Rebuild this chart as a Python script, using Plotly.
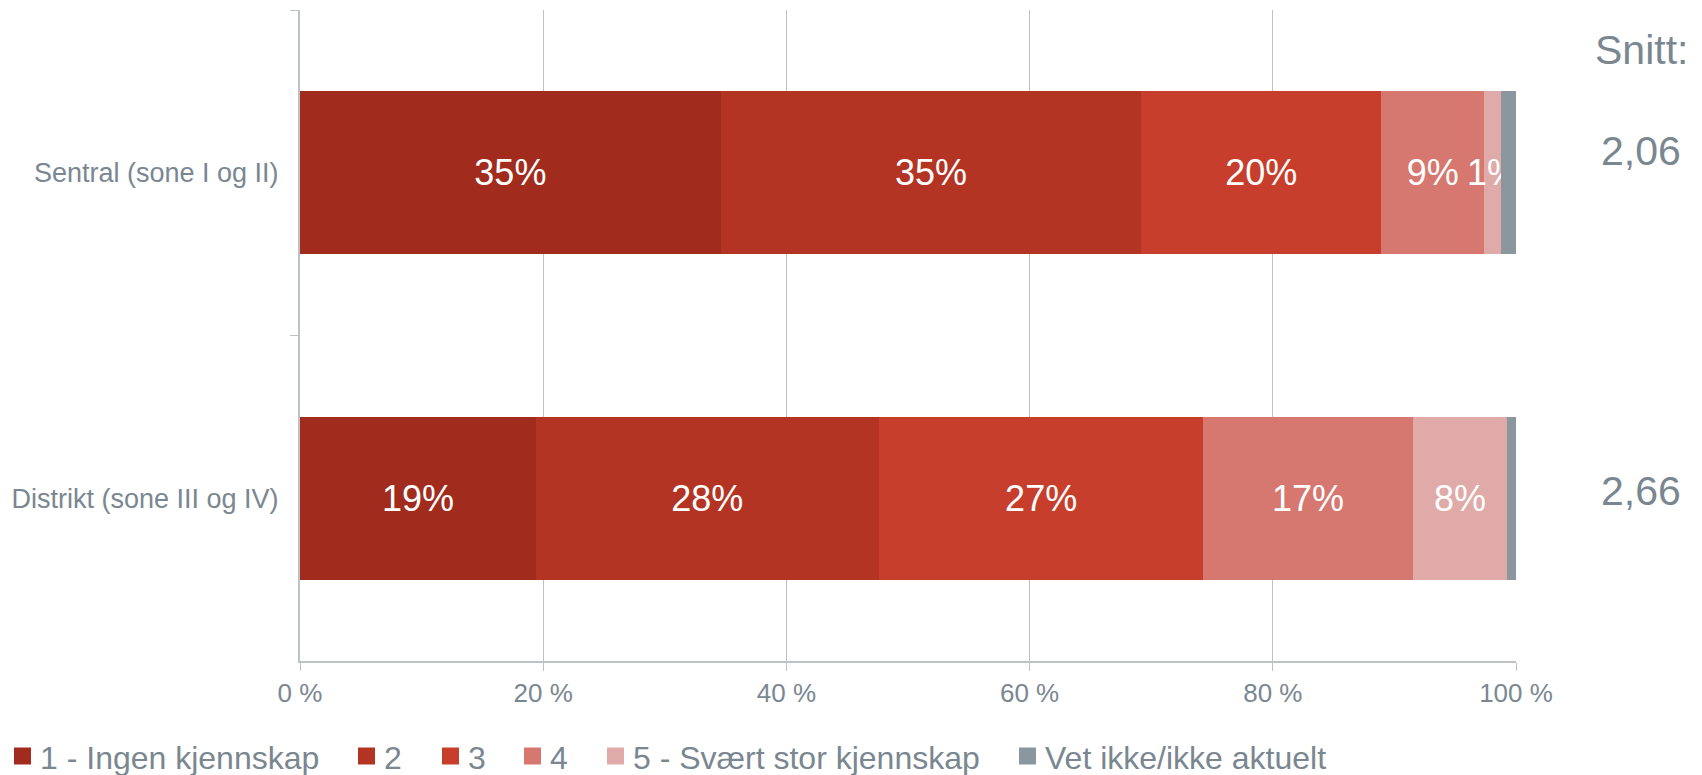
import plotly.graph_objects as go

# ── data ──────────────────────────────────────────────────────────────────────
groups = ["Sentral (sone I og II)", "Distrikt (sone III og IV)"]
series_names = ["1 - Ingen kjennskap", "2", "3", "4",
                "5 - Svært stor kjennskap", "Vet ikke/ikke aktuelt"]
# share of respondents (%) per group, one list per answer category
values = [
    [34.6, 19.4],
    [34.6, 28.2],
    [19.7, 26.7],
    [8.5, 17.2],
    [1.4, 7.8],
    [1.2, 0.7],
]
labels = [
    ["35%", "19%"],
    ["35%", "28%"],
    ["20%", "27%"],
    ["9%", "17%"],
    ["1%", "8%"],
    ["", ""],
]
snitt = ["2,06", "2,66"]
x_ticks = [0, 20, 40, 60, 80, 100]
x_ticktext = ["0 %", "20 %", "40 %", "60 %", "80 %", "100 %"]

colors = ["#A12C1E", "#B43424", "#C83E2C", "#D67870", "#E0AAA8", "#8A979F"]
GRAY_TEXT = "#7A8791"
GRID = "#BDC2C6"
FONT = "Liberation Sans, Arial, sans-serif"

# ── layout geometry (pixels) ──────────────────────────────────────────────────
W, H = 1702, 775
M_L, M_R, M_T, M_B = 300, 186, 10, 114
PLOT_W = W - M_L - M_R
PLOT_H = H - M_T - M_B
LEGEND_X = [14, 358, 442, 524, 607, 1019]   # left edge of each swatch
LEGEND_Y = 756                              # swatch centre line
SWATCH = 17


def px_x(px):
    return (px - M_L) / PLOT_W


def px_y(py):
    return (H - M_B - py) / PLOT_H


fig = go.Figure()
for name, vals, txt, col in zip(series_names, values, labels, colors):
    fig.add_trace(go.Bar(
        y=groups,
        x=vals,
        name=name,
        orientation="h",
        marker=dict(color=col, line=dict(width=0)),
        text=txt,
        textposition="inside",
        insidetextanchor="middle",
        textangle=0,
        constraintext="none",
        textfont=dict(size=36, color="white", family=FONT),
        hoverinfo="skip",
        showlegend=False,
    ))

# legend drawn by hand so it can sit flush with the page edge
for name, col, lx in zip(series_names, colors, LEGEND_X):
    fig.add_shape(type="rect", xref="paper", yref="paper",
                  x0=px_x(lx), x1=px_x(lx + SWATCH),
                  y0=px_y(LEGEND_Y + SWATCH / 2), y1=px_y(LEGEND_Y - SWATCH / 2),
                  fillcolor=col, line=dict(width=0))
    fig.add_annotation(text=name, xref="paper", yref="paper",
                       x=px_x(lx + SWATCH + 7), y=px_y(LEGEND_Y + 2),
                       xanchor="left", yanchor="middle", showarrow=False,
                       font=dict(size=32, color=GRAY_TEXT, family=FONT))

# averages column on the right
fig.add_annotation(text="Snitt:", xref="paper", yref="paper", x=px_x(1641), y=px_y(50),
                   xanchor="center", yanchor="middle", showarrow=False,
                   font=dict(size=41, color=GRAY_TEXT, family=FONT))
for s, py in zip(snitt, [151, 491]):
    fig.add_annotation(text=s, xref="paper", yref="paper", x=px_x(1641), y=px_y(py),
                       xanchor="center", yanchor="middle", showarrow=False,
                       font=dict(size=41, color=GRAY_TEXT, family=FONT))

fig.update_layout(
    barmode="stack",
    bargap=0.5,
    width=W,
    height=H,
    margin=dict(l=M_L, r=M_R, t=M_T, b=M_B),
    plot_bgcolor="white",
    paper_bgcolor="white",
    font=dict(family=FONT, color=GRAY_TEXT),
    uniformtext=dict(minsize=36, mode="show"),
    showlegend=False,
    xaxis=dict(
        range=[0, 100],
        tickvals=x_ticks,
        ticktext=x_ticktext,
        showgrid=True,
        gridcolor=GRID,
        gridwidth=1,
        showline=True,
        linecolor=GRID,
        linewidth=2,
        ticks="outside",
        ticklen=8,
        tickcolor=GRID,
        tickfont=dict(size=26, color=GRAY_TEXT),
        zeroline=False,
        automargin=False,
        fixedrange=True,
    ),
    yaxis=dict(
        autorange="reversed",
        showline=True,
        linecolor=GRID,
        linewidth=2,
        ticks="outside",
        tickson="boundaries",
        ticklen=8,
        tickcolor=GRID,
        ticklabelstandoff=14,
        tickfont=dict(size=27, color=GRAY_TEXT),
        showgrid=False,
        automargin=False,
        fixedrange=True,
    ),
)

fig.write_html("out.html", config={"displayModeBar": False},
               post_script="document.body.style.margin='0';")
